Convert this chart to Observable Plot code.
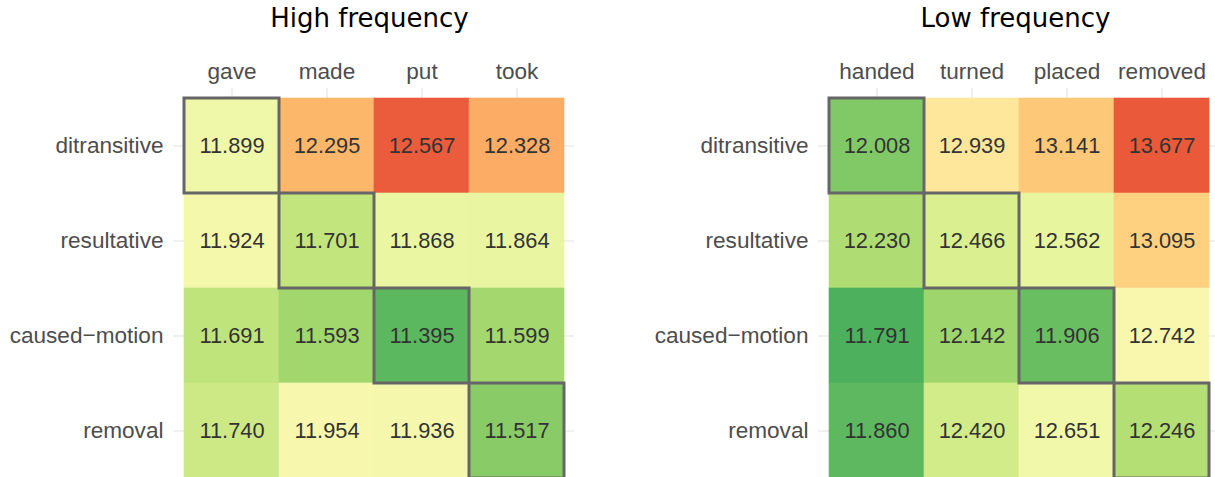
<!DOCTYPE html>
<html><head><meta charset="utf-8">
<script src="https://cdn.jsdelivr.net/npm/d3@7"></script>
<script src="https://cdn.jsdelivr.net/npm/@observablehq/plot@0.6"></script>
<style>
html,body{margin:0;padding:0;background:#fff;overflow:hidden;width:1215px;height:477px;position:relative;}
.panel{position:absolute;top:0;width:600px;}
.titlebox{position:relative;height:40px;}
.title{position:absolute;top:5px;line-height:26px;font-family:"DejaVu Sans",sans-serif;font-size:26px;color:#000;white-space:nowrap;transform:translateX(-50%);}
</style></head><body>
<div id="root"></div>
<script>
const constructions = ["ditransitive", "resultative", "caused−motion", "removal"];
const highVerbs = ["gave", "made", "put", "took"];
const lowVerbs = ["handed", "turned", "placed", "removed"];
const highValues = [
  [11.899, 12.295, 12.567, 12.328],
  [11.924, 11.701, 11.868, 11.864],
  [11.691, 11.593, 11.395, 11.599],
  [11.740, 11.954, 11.936, 11.517]
];
const lowValues = [
  [12.008, 12.939, 13.141, 13.677],
  [12.230, 12.466, 12.562, 13.095],
  [11.791, 12.142, 11.906, 12.742],
  [11.860, 12.420, 12.651, 12.246]
];
const highColorDomain = [11.05, 12.88];
const lowColorDomain = [11.32, 14.15];
const titles = ["High frequency", "Low frequency"];

function buildRows(verbs, values) {
  const rows = [];
  constructions.forEach((c, i) => verbs.forEach((v, j) => {
    rows.push({construction: c, verb: v, value: values[i][j], diag: i === j});
  }));
  return rows;
}

function makePanel(verbs, values, colorDomain, title, left, titleX) {
  const rows = buildRows(verbs, values);
  const fmt = d3.format(".3f");
  const chart = Plot.plot({
    width: 600,
    height: 447,
    marginLeft: 173,
    marginRight: 26,
    marginTop: 48,
    marginBottom: 0,
    style: {fontFamily: "'Liberation Sans', Arial, sans-serif", fontSize: "22.6px", color: "#4d4d4d", background: "transparent"},
    x: {type: "band", domain: verbs, paddingInner: 0, paddingOuter: 0.1, label: null},
    y: {type: "band", domain: constructions, paddingInner: 0, paddingOuter: 0.1, label: null},
    color: {type: "linear", scheme: "RdYlGn", reverse: true, domain: colorDomain},
    marks: [
      Plot.gridX({stroke: "#ebebeb", strokeOpacity: 1, strokeWidth: 1.6}),
      Plot.gridY({stroke: "#ebebeb", strokeOpacity: 1, strokeWidth: 1.6}),
      Plot.cell(rows, {x: "verb", y: "construction", fill: "value", stroke: "value", strokeWidth: 0.6, inset: 0}),
      Plot.cell(rows.filter(d => d.diag), {x: "verb", y: "construction", fill: "none", stroke: "#666", strokeWidth: 3, inset: 0}),
      Plot.text(rows, {x: "verb", y: "construction", text: d => fmt(d.value), fontSize: 21.8, fill: "#333"}),
      Plot.axisX({anchor: "top", tickSize: 0, tickPadding: 10, fontSize: 22.6, label: null}),
      Plot.axisY({anchor: "left", tickSize: 0, tickPadding: 10, fontSize: 22.6, label: null})
    ]
  });
  const panel = document.createElement("div");
  panel.className = "panel";
  panel.style.left = left + "px";
  const tb = document.createElement("div");
  tb.className = "titlebox";
  const t = document.createElement("div");
  t.className = "title";
  t.textContent = title;
  t.style.left = titleX + "px";
  tb.appendChild(t);
  panel.appendChild(tb);
  panel.appendChild(chart);
  document.getElementById("root").appendChild(panel);
}

makePanel(highVerbs, highValues, highColorDomain, titles[0], 0, 369.5);
makePanel(lowVerbs, lowValues, lowColorDomain, titles[1], 645, 370.5);
</script>
</body></html>
